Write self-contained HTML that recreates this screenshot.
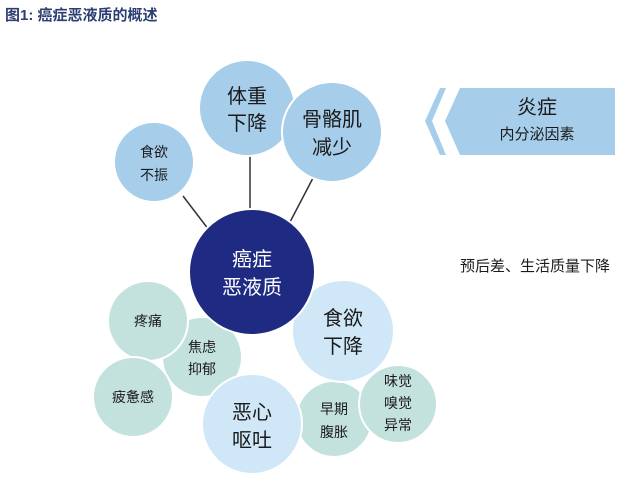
<!DOCTYPE html>
<html><head><meta charset="utf-8"><style>
body{margin:0;background:#fff;width:627px;height:488px;overflow:hidden}
svg text{font-family:"Liberation Sans","Noto Sans CJK SC",sans-serif;fill:#1b1b1b;text-anchor:middle}
</style></head><body>
<svg width="627" height="488" viewBox="0 0 627 488">
<text x="5" y="20" style="text-anchor:start;font-size:15px;fill:#2c3e72;font-weight:bold">图1: 癌症恶液质的概述</text>
<g stroke="#333" stroke-width="1.5">
<line x1="183" y1="196" x2="212" y2="234"/>
<line x1="250" y1="156" x2="250" y2="212"/>
<line x1="313" y1="178" x2="290" y2="222"/>
</g>
<g stroke="#fff" stroke-width="2">
<circle cx="154" cy="162" r="40" fill="#a6cdea"/>
<circle cx="247" cy="108" r="48" fill="#a6cdea"/>
<circle cx="332" cy="132" r="50" fill="#a6cdea"/>
<circle cx="202" cy="357" r="40" fill="#c4e2dd"/>
<circle cx="148" cy="321" r="40" fill="#c4e2dd"/>
<circle cx="133" cy="397" r="40" fill="#c4e2dd"/>
<circle cx="334" cy="419" r="38" fill="#c4e2dd"/>
<circle cx="398" cy="404" r="39" fill="#c4e2dd"/>
<circle cx="343" cy="331" r="51" fill="#cfe7f6"/>
<circle cx="252" cy="424" r="50" fill="#cfe7f6"/>
<circle cx="252" cy="272" r="63" fill="#1f2b83"/>
</g>
<polygon points="440,88 425,121 440,155 446,155 432,121 446,88" fill="#a6cdea"/>
<polygon points="460,88 615,88 615,155 460,155 445,121" fill="#a6cdea"/>
<g style="font-size:20px">
<text x="247" y="103">体重</text><text x="247" y="130">下降</text>
<text x="332" y="126">骨骼肌</text><text x="332" y="154">减少</text>
<text x="343" y="325">食欲</text><text x="343" y="353">下降</text>
<text x="252" y="419">恶心</text><text x="252" y="447">呕吐</text>
<text x="537" y="114">炎症</text>
<text x="252" y="266" style="fill:#fff">癌症</text><text x="252" y="294" style="fill:#fff">恶液质</text>
</g>
<g style="font-size:14px">
<text x="154" y="157">食欲</text><text x="154" y="180">不振</text>
<text x="148" y="326">疼痛</text>
<text x="202" y="352">焦虑</text><text x="202" y="374">抑郁</text>
<text x="133" y="402">疲惫感</text>
<text x="334" y="414">早期</text><text x="334" y="437">腹胀</text>
<text x="398" y="386">味觉</text><text x="398" y="408">嗅觉</text><text x="398" y="430">异常</text>
<text x="537" y="139" style="font-size:15px">内分泌因素</text>
<text x="535" y="271" style="font-size:15px">预后差、生活质量下降</text>
</g>
</svg>
</body></html>
